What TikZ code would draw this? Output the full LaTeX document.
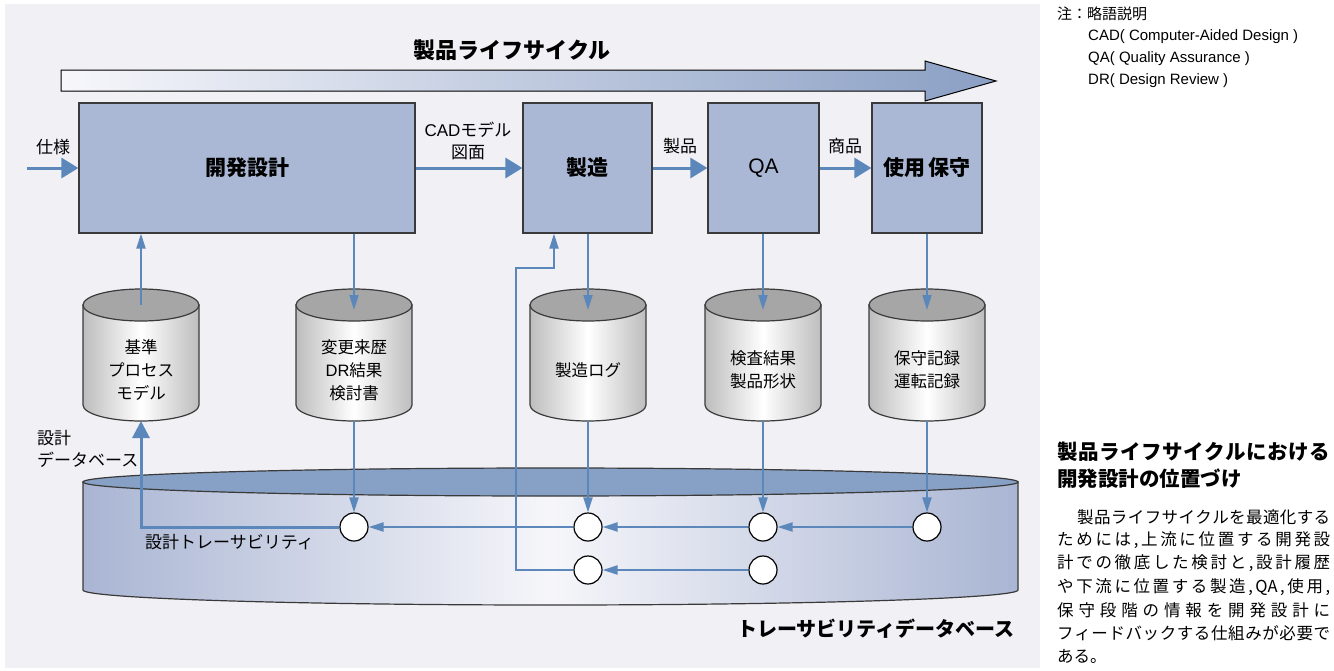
\documentclass[tikz,border=0pt]{standalone}
\usepackage{fontspec}
\setmainfont{Noto Sans CJK JP}
\newfontfamily\lat{Liberation Sans}
\usetikzlibrary{arrows.meta}
\definecolor{bg}{HTML}{F0F0F5}
\definecolor{boxfill}{HTML}{ABB8D5}
\definecolor{flow}{HTML}{5B87BB}
\definecolor{dbtop}{HTML}{87A0C5}
\definecolor{dbside}{HTML}{A9B5D3}
\definecolor{dbmid}{HTML}{F6F6FA}
\definecolor{cyltop}{HTML}{A6A6A6}
\definecolor{cylside}{HTML}{BDBDBD}
\definecolor{edge}{HTML}{3A3A3A}
\definecolor{arrowL}{HTML}{F7F7FB}
\definecolor{arrowR}{HTML}{8A9FC4}
\makeatletter
\def\jl@end{\jl@end}
\def\jl@A#1{#1\jl@B}
\def\jl@B#1{\ifx#1\jl@end\else\hfill#1\expandafter\jl@B\fi}
\newcommand\spreadline[2]{\hbox to #1{\jl@A#2\jl@end}}
\makeatother
\newcommand\mycyl[3]{%
  \path[cylbody] ({#2-58},305) -- ({#2-58},405)
     .. controls ({#2-58},413.8) and ({#2-32},421) .. (#2,421)
     .. controls ({#2+32},421) and ({#2+58},413.8) .. ({#2+58},405)
     -- ({#2+58},305) -- cycle;
  \path[cylcap] (#2,305) ellipse [x radius=58, y radius=16];
  \coordinate (#1-top) at (#2,305);
  \coordinate (#1-in) at (#2,310);
  \coordinate (#1-bot) at (#2,421);
  \node[cyltext] (#1) at (#2,370) {#3};
}
\begin{document}
\begin{tikzpicture}[x=1pt,y=-1pt,
  stage/.style={draw=edge,line width=1.2pt,fill=boxfill,inner sep=0pt,font=\fontsize{21pt}{25pt}\selectfont\bfseries},
  flowarrow/.style={draw=flow,line width=3pt,-{Triangle[length=17pt,width=20pt]}},
  thinarrow/.style={draw=flow,line width=2pt,-{Triangle[length=15pt,width=9pt]}},
  feedthick/.style={draw=flow,line width=3pt,-{Triangle[length=17pt,width=17pt]}},
  lbl/.style={font=\fontsize{17pt}{22pt}\selectfont,align=center,inner sep=0pt},
  cyltext/.style={font=\fontsize{16.5pt}{23pt}\selectfont,align=center,inner sep=0pt},
  cylbody/.style={draw=edge,line width=1.2pt,left color=cylside,right color=cylside,middle color=white},
  cylcap/.style={draw=edge,line width=1.2pt,fill=cyltop},
  dbbody/.style={draw=edge,line width=1.2pt,left color=dbside,right color=dbside,middle color=dbmid},
  dbcap/.style={draw=edge,line width=1.2pt,fill=dbtop},
  dot/.style={circle,draw=black,line width=1.2pt,fill=white,minimum size=28pt,inner sep=0pt},
  note/.style={font=\fontsize{15pt}{18pt}\selectfont,anchor=west,inner sep=0pt},
  body/.style={font=\fontsize{16.5pt}{20pt}\selectfont,anchor=west,inner sep=0pt},
  head/.style={font=\fontsize{20.5pt}{24pt}\selectfont\bfseries,anchor=west,inner sep=0pt}]
\useasboundingbox (0,0) rectangle (1334,670);
\fill[white] (0,0) rectangle (1334,670);
\fill[bg] (5,4) rectangle (1040,668);
% life cycle arrow
\path[draw=black,line width=1pt,left color=arrowL,right color=arrowR]
  (61,70) -- (925,70) -- (925,61) -- (996,81) -- (925,101) -- (925,91) -- (61,91) -- cycle;
\node[font=\fontsize{22pt}{26pt}\selectfont\bfseries,inner sep=0pt] (title) at (512,50) {製品ライフサイクル};
% stages
\node[stage,minimum width=336pt,minimum height=130pt] (dev) at (247,168) {開発設計};
\node[stage,minimum width=129pt,minimum height=130pt] (mfg) at (587.5,168) {製造};
\node[stage,minimum width=111pt,minimum height=130pt,font=\fontsize{21pt}{25pt}\lat] (qa) at (763.5,168) {QA};
\node[stage,minimum width=110pt,minimum height=130pt] (use) at (927,168) {使用\hspace{4pt}保守};
\coordinate (specin) at (27,168);
\draw[flowarrow] (specin) -- (dev.west);
\draw[flowarrow] (dev.east) -- (mfg.west);
\draw[flowarrow] (mfg.east) -- (qa.west);
\draw[flowarrow] (qa.east) -- (use.west);
\node[lbl] (lspec) at (53,147) {仕様};
\node[lbl] (lcad) at (468,141) {{\lat CAD}モデル\\図面};
\node[lbl] (lprod) at (680,146) {製品};
\node[lbl] (lgoods) at (845,146) {商品};
% traceability database
\path[dbbody] (83,482) -- (83,590)
   .. controls (83,598.3) and (292.3,605) .. (550.5,605)
   .. controls (808.7,605) and (1018,598.3) .. (1018,590)
   -- (1018,482) -- cycle;
\path[dbcap] (550.5,482) ellipse [x radius=467.5, y radius=14];
\node[font=\fontsize{20pt}{24pt}\selectfont\bfseries,inner sep=0pt] (tdb) at (876,629) {トレーサビリティデータベース};
% cylinders
\mycyl{c1}{141}{基準\\プロセス\\モデル}
\mycyl{c2}{354}{変更来歴\\{\lat DR}結果\\検討書}
\mycyl{c3}{588}{製造ログ}
\mycyl{c4}{763}{検査結果\\製品形状}
\mycyl{c5}{927}{保守記録\\運転記録}
% circles
\node[dot] (d1) at (354,527) {};
\node[dot] (d2) at (588,527) {};
\node[dot] (d3) at (763,527) {};
\node[dot] (d4) at (927,527) {};
\node[dot] (e2) at (588,570) {};
\node[dot] (e3) at (763,570) {};
% stage <-> cylinders
\draw[thinarrow] (c1-top) -- (c1-top |- dev.south);
\draw[thinarrow] (dev.south -| c2-in) -- (c2-in);
\draw[thinarrow] (mfg.south -| c3-in) -- (c3-in);
\draw[thinarrow] (qa.south -| c4-in) -- (c4-in);
\draw[thinarrow] (use.south -| c5-in) -- (c5-in);
% cylinders -> circles
\draw[thinarrow] (c2-bot) -- (d1.north);
\draw[thinarrow] (c3-bot) -- (d2.north);
\draw[thinarrow] (c4-bot) -- (d3.north);
\draw[thinarrow] (c5-bot) -- (d4.north);
% feedback
\draw[thinarrow] (d4.west) -- (d3.east);
\draw[thinarrow] (d3.west) -- (d2.east);
\draw[thinarrow] (d2.west) -- (d1.east);
\draw[feedthick] (d1.west) -| (c1-bot);
\draw[thinarrow] (e3.west) -- (e2.east);
\coordinate (fbA) at (516,268);
\coordinate (fbB) at (554,268);
\draw[thinarrow] (e2.west) -| (fbA) -- (fbB) -- (fbB |- mfg.south);
% labels
\node[lbl,align=left,anchor=west] (ldb) at (37,449) {設計\\データベース};
\node[lbl,anchor=west] (ltrace) at (145,542) {設計トレーサビリティ};
% notes
\node[note] (n0) at (1057,14) {注：略語説明};
\node[note] (n1) at (1088,37) {\lat CAD( Computer-Aided Design )};
\node[note] (n2) at (1088,59) {\lat QA( Quality Assurance )};
\node[note] (n3) at (1088,81) {\lat DR( Design Review )};
% right column text
\node[head] (h1) at (1057,452) {\spreadline{273pt}{製品ライフサイクルにおける}};
\node[head] (h2) at (1057,479) {開発設計の位置づけ};
\node[body] (b1) at (1077,517) {\spreadline{253pt}{製品ライフサイクルを最適化する}};
\node[body] (b2) at (1057,540.3) {\spreadline{273pt}{ためには,上流に位置する開発設}};
\node[body] (b3) at (1057,563.6) {\spreadline{273pt}{計での徹底した検討と,設計履歴}};
\node[body] (b4) at (1057,586.9) {\spreadline{273pt}{や下流に位置する製造,{QA},使用,}};
\node[body] (b5) at (1057,610.2) {\spreadline{273pt}{保守段階の情報を開発設計に}};
\node[body] (b6) at (1057,633.5) {\spreadline{273pt}{フィードバックする仕組みが必要で}};
\node[body] (b7) at (1057,656.8) {ある。};
\end{tikzpicture}
\end{document}
